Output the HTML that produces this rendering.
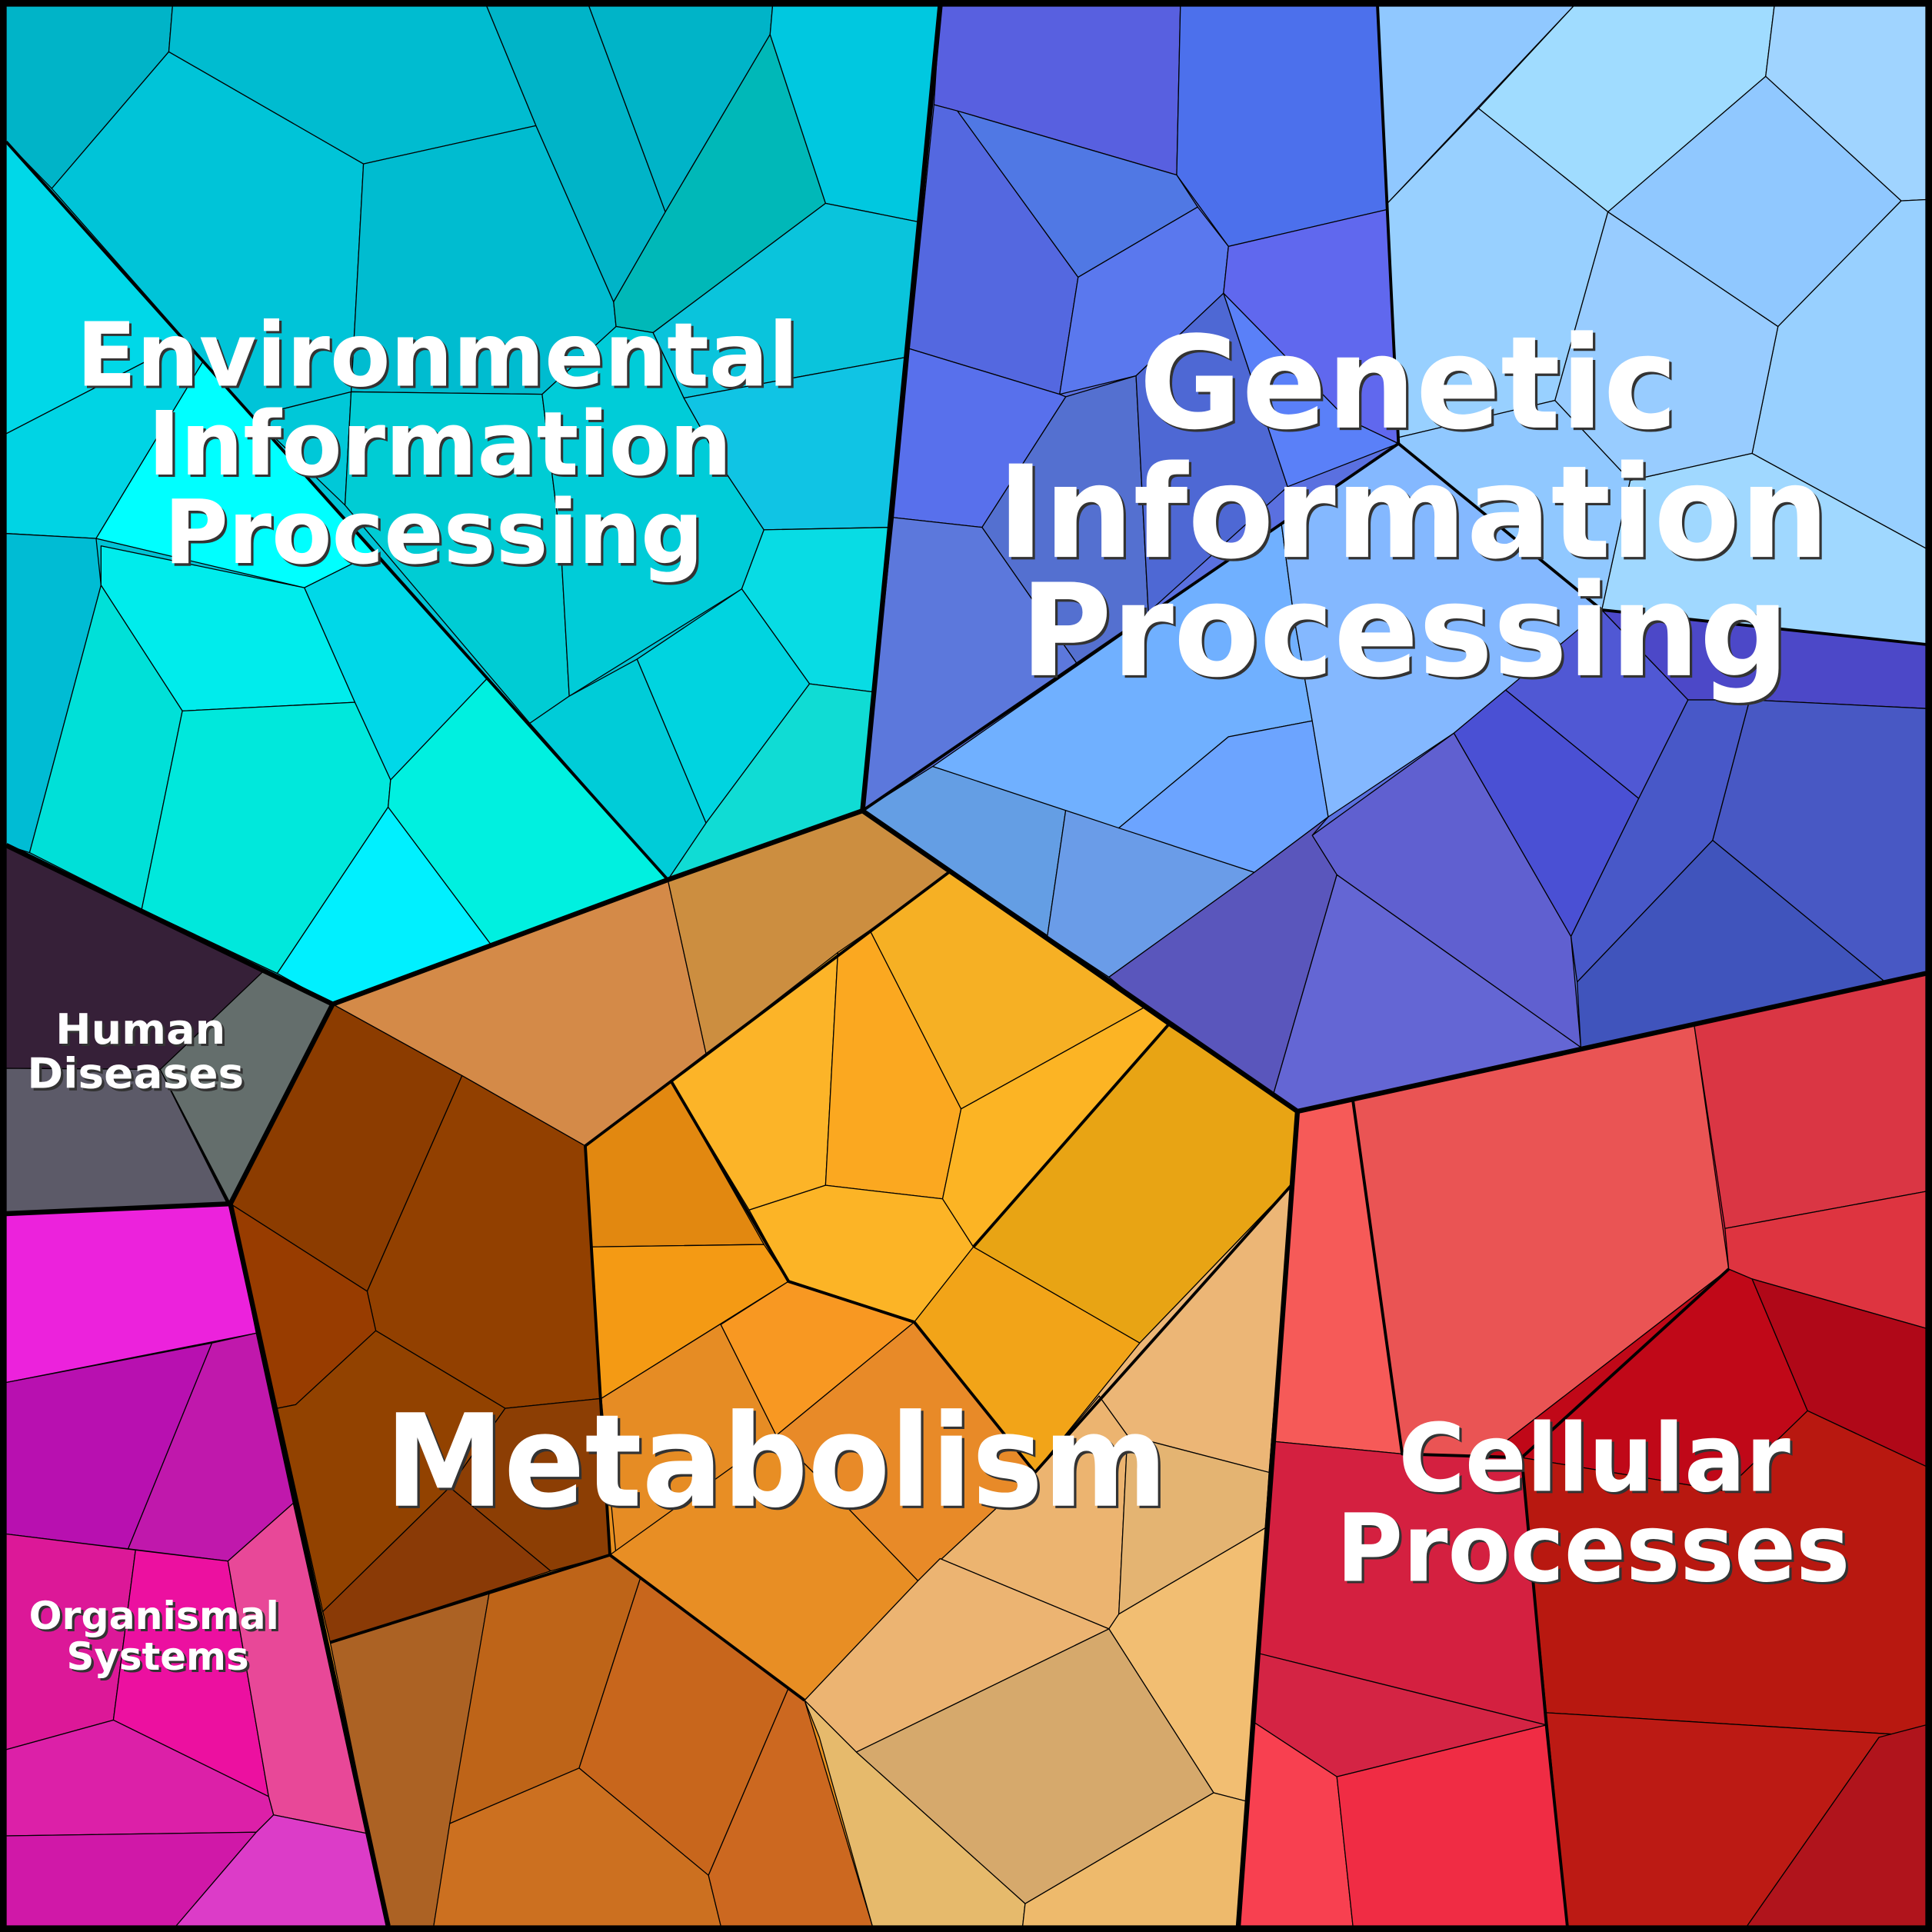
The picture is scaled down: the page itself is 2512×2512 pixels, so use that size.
<!DOCTYPE html>
<html><head><meta charset="utf-8"><style>html,body{margin:0;padding:0;background:#000}svg{display:block}</style></head><body>
<svg xmlns="http://www.w3.org/2000/svg" width="2512" height="2512" viewBox="0 0 1568 1568">
<rect x="0" y="0" width="1568" height="1568" fill="#000"/>
<g stroke="#000" stroke-width="0.8" stroke-linejoin="round">
<polygon points="5,5 763,5 700,658 542,714 270,815 5,686" fill="#00c4d6"/>
<polygon points="5,5 140,5 137,42 42,153 5,115" fill="#00b4c8"/>
<polygon points="42,153 137,42 295,133 285,318 205,338" fill="#00c4d8"/>
<polygon points="140,5 395,5 435,102 295,133 137,42" fill="#00bcd0"/>
<polygon points="295,133 435,102 498,245 500,265 440,320 285,318" fill="#00bcd0"/>
<polygon points="205,338 285,318 280,410" fill="#00c8d8"/>
<polygon points="280,410 285,318 440,320 455,440 462,565 430,587" fill="#00ccd4"/>
<polygon points="395,5 478,5 540,172 498,245 435,102" fill="#00b4c8"/>
<polygon points="478,5 627,5 625,28 540,172" fill="#00b4c8"/>
<polygon points="625,28 670,165 530,270 500,265 498,245 540,172" fill="#00b8b8"/>
<polygon points="627,5 763,5 745,180 670,165 625,28" fill="#00c8e0"/>
<polygon points="670,165 745,180 735,290 555,323 530,270" fill="#0ac4dc"/>
<polygon points="440,320 500,265 530,270 555,323 590,385 620,430 602,478 462,565 455,440" fill="#00ccd8"/>
<polygon points="555,323 735,290 722,428 620,430 590,385" fill="#10c4e4"/>
<polygon points="620,430 722,428 712,562 657,555 602,478" fill="#08dce4"/>
<polygon points="602,478 657,555 573,668 517,535" fill="#00d4e0"/>
<polygon points="657,555 712,562 700,658 542,714 573,668" fill="#10dcd4"/>
<polygon points="430,587 462,565 517,535 573,668 542,714" fill="#00ccd8"/>
<polygon points="5,115 150,277 5,352" fill="#00d8e8"/>
<polygon points="5,352 150,277 165,293 78,437 5,433" fill="#00d4e4"/>
<polygon points="78,437 165,293 305,448 247,477" fill="#00ffff"/>
<polygon points="247,477 305,448 396,550 317,633 288,570" fill="#00d8e8"/>
<polygon points="5,433 78,437 82,475 24,692 5,686" fill="#00bcd4"/>
<polygon points="82,443 247,477 288,570 148,577 82,475" fill="#00ecec"/>
<polygon points="24,692 82,475 148,577 115,738" fill="#00e0d8"/>
<polygon points="148,577 288,570 317,633 315,655 225,790 115,738" fill="#00e8dc"/>
<polygon points="225,790 315,655 398,766 270,815" fill="#00f0ff"/>
<polygon points="315,655 317,633 396,550 542,714 398,766" fill="#00f0e0"/>
<polygon points="763,5 1563,5 1563,790 1053,902 700,658" fill="#5a70e0"/>
<polygon points="763,5 958,5 955,142 777,90 758,85" fill="#5860e0"/>
<polygon points="958,5 1118,5 1126,170 997,200 955,142" fill="#4c70ec"/>
<polygon points="758,85 777,90 875,225 860,320 738,283" fill="#5468e0"/>
<polygon points="777,90 955,142 972,168 875,225" fill="#5078e4"/>
<polygon points="875,225 972,168 997,200 993,238 922,305 860,320" fill="#5a78ee"/>
<polygon points="997,200 1126,170 1135,360 1093,340 993,238" fill="#6068ee"/>
<polygon points="738,283 860,320 865,322 797,428 725,420" fill="#5870ec"/>
<polygon points="865,322 922,305 932,497 875,540 797,428" fill="#5470d0"/>
<polygon points="922,305 993,238 1045,395 932,497" fill="#4e68d4"/>
<polygon points="993,238 1093,340 1135,360 1045,395" fill="#5a80f8"/>
<polygon points="725,420 797,428 875,540 700,658" fill="#5c78dc"/>
<polygon points="1118,5 1277,5 1126,165" fill="#90c8ff"/>
<polygon points="1277,5 1440,5 1433,62 1305,172 1200,88" fill="#a0dcff"/>
<polygon points="1440,5 1563,5 1563,162 1543,163 1433,62" fill="#a0d4ff"/>
<polygon points="1126,165 1200,88 1305,172 1262,325 1135,355" fill="#98d0ff"/>
<polygon points="1305,172 1433,62 1543,163 1443,265" fill="#90c8ff"/>
<polygon points="1543,163 1563,162 1563,445 1422,368 1443,265" fill="#98d0ff"/>
<polygon points="1262,325 1305,172 1443,265 1422,368 1323,390" fill="#98ccff"/>
<polygon points="1323,390 1422,368 1563,445 1563,523 1300,495" fill="#a0d8ff"/>
<polygon points="1135,355 1262,325 1323,390 1300,495 1135,360" fill="#90c8ff"/>
<polygon points="700,658 757,622 865,657 850,760 900,793" fill="#649ee4"/>
<polygon points="865,657 1018,708 900,793 850,760" fill="#6a9ce8"/>
<polygon points="757,622 1040,425 1050,500 1065,585 997,598 908,672" fill="#70b0ff"/>
<polygon points="908,672 997,598 1065,585 1078,663 1018,708" fill="#6ca4ff"/>
<polygon points="1040,425 1135,360 1300,495 1370,568 1330,648 1222,560 1180,595 1078,663 1065,585 1050,500" fill="#84b8ff"/>
<polygon points="1065,678 1180,595 1275,760 1283,850 1085,710" fill="#6060d0"/>
<polygon points="900,793 1018,708 1078,663 1065,678 1085,710 1030,900" fill="#5a56bc"/>
<polygon points="1085,710 1283,850 1053,902 1030,900" fill="#6466d4"/>
<polygon points="1180,595 1222,560 1330,648 1275,760" fill="#4a50d4"/>
<polygon points="1222,560 1300,495 1370,568 1330,648" fill="#5058d4"/>
<polygon points="1300,495 1563,523 1563,575 1420,568 1370,568" fill="#4c48c8"/>
<polygon points="1370,568 1420,568 1390,682 1280,797 1275,760 1330,648" fill="#4858c8"/>
<polygon points="1420,568 1563,575 1563,790 1530,797 1390,682" fill="#4858c4"/>
<polygon points="1280,797 1390,682 1530,797 1283,850" fill="#4054bc"/>
<polygon points="1053,902 1563,790 1563,1563 1005,1563" fill="#d42040"/>
<polygon points="1053,902 1098,893 1138,1180 1035,1170" fill="#f65a58"/>
<polygon points="1098,893 1375,832 1403,1030 1205,1183 1138,1180" fill="#ea5454"/>
<polygon points="1375,832 1563,790 1563,967 1400,997" fill="#da3644"/>
<polygon points="1400,997 1563,967 1563,1078 1422,1038 1403,1030" fill="#de3440"/>
<polygon points="1403,1030 1422,1038 1467,1145 1400,1210 1235,1183 1205,1183" fill="#c00818"/>
<polygon points="1422,1038 1563,1078 1563,1190 1467,1145" fill="#b00818"/>
<polygon points="1235,1183 1400,1210 1467,1145 1563,1190 1563,1400 1545,1408 1255,1390" fill="#b81810"/>
<polygon points="1035,1170 1138,1180 1235,1183 1255,1400 1022,1342" fill="#d42040"/>
<polygon points="1022,1342 1255,1400 1085,1442 1018,1398" fill="#d42444"/>
<polygon points="1018,1398 1085,1442 1098,1563 1005,1563" fill="#f84050"/>
<polygon points="1085,1442 1255,1400 1272,1563 1098,1563" fill="#f02c44"/>
<polygon points="1255,1390 1545,1408 1525,1410 1418,1563 1272,1563" fill="#bc1a14"/>
<polygon points="1525,1410 1563,1400 1563,1563 1418,1563" fill="#b0141c"/>
<polygon points="270,815 542,714 700,658 1053,902 1005,1563 315,1563 187,977" fill="#e89020"/>
<polygon points="270,815 542,714 573,855 475,930 375,873" fill="#d48a48"/>
<polygon points="542,714 700,658 770,708 573,855" fill="#cc8e40"/>
<polygon points="270,815 375,873 298,1048 187,977" fill="#8c3c00"/>
<polygon points="375,873 475,930 488,1135 410,1143 305,1080 298,1048" fill="#924000"/>
<polygon points="187,977 298,1048 305,1080 240,1140 225,1143" fill="#983c00"/>
<polygon points="225,1143 240,1140 305,1080 410,1143 365,1207 262,1308" fill="#924200"/>
<polygon points="262,1308 365,1207 447,1275 268,1333" fill="#8a3a06"/>
<polygon points="365,1207 410,1143 488,1135 495,1262 447,1275" fill="#8c3e04"/>
<polygon points="268,1333 397,1293 352,1563 315,1563" fill="#ac6224"/>
<polygon points="397,1293 495,1262 520,1280 470,1435 365,1480" fill="#be6418"/>
<polygon points="520,1280 653,1380 640,1370 575,1522 470,1435" fill="#c8661c"/>
<polygon points="365,1480 470,1435 575,1522 585,1563 352,1563" fill="#cc7020"/>
<polygon points="575,1522 640,1370 653,1380 708,1563 585,1563" fill="#cc6820"/>
<polygon points="475,930 545,878 620,1010 480,1012" fill="#e28810"/>
<polygon points="480,1012 620,1010 640,1040 488,1135" fill="#f49a14"/>
<polygon points="488,1135 640,1040 585,1075 630,1165 500,1262" fill="#e68c24"/>
<polygon points="585,1075 640,1040 742,1073 630,1165" fill="#f89822"/>
<polygon points="630,1165 742,1073 840,1195 745,1283 665,1200" fill="#e88a28"/>
<polygon points="495,1262 630,1165 665,1200 745,1283 653,1380" fill="#e88e24"/>
<polygon points="545,878 680,773 670,962 608,982" fill="#fcb428"/>
<polygon points="680,773 706,755 780,900 765,973 670,962" fill="#fba820"/>
<polygon points="706,755 770,708 928,818 780,900" fill="#f6b024"/>
<polygon points="608,982 670,962 765,973 790,1012 742,1073 640,1040" fill="#fcb426"/>
<polygon points="780,900 928,818 948,832 790,1012 765,973" fill="#fcb424"/>
<polygon points="948,832 1053,902 1048,962 925,1090 790,1012" fill="#e8a414"/>
<polygon points="742,1073 790,1012 925,1090 840,1195" fill="#f2a418"/>
<polygon points="840,1195 925,1090 1048,962 1030,1195 915,1165 892,1133" fill="#ecb676"/>
<polygon points="745,1283 840,1195 892,1133 915,1165 908,1310 900,1322 763,1265" fill="#ecb470"/>
<polygon points="915,1165 1030,1195 1027,1240 908,1310" fill="#e4b472"/>
<polygon points="653,1380 745,1283 763,1265 900,1322 695,1422" fill="#ecb472"/>
<polygon points="900,1322 908,1310 1027,1240 1012,1462 985,1455" fill="#f2be72"/>
<polygon points="695,1422 900,1322 985,1455 832,1545" fill="#d6a96c"/>
<polygon points="653,1380 695,1422 832,1545 830,1563 708,1563 665,1410" fill="#e6ba6c"/>
<polygon points="832,1545 985,1455 1012,1462 1005,1563 830,1563" fill="#eeba6c"/>
<polygon points="5,686 213,789 130,868 5,867" fill="#362038"/>
<polygon points="213,789 270,815 187,977 130,868" fill="#646e6c"/>
<polygon points="5,867 130,868 184,976 5,985" fill="#5c5a68"/>
<polygon points="5,985 187,977 208,1082 5,1122" fill="#ec22dc"/>
<polygon points="5,1122 172,1090 104,1257 5,1245" fill="#b810b0"/>
<polygon points="172,1090 208,1082 238,1220 185,1267 104,1257" fill="#c018ac"/>
<polygon points="5,1245 110,1258 92,1396 5,1420" fill="#dc1898"/>
<polygon points="110,1258 185,1267 218,1458 92,1396" fill="#ec10a0"/>
<polygon points="185,1267 238,1220 298,1488 222,1473 218,1458" fill="#e84898"/>
<polygon points="5,1420 92,1396 218,1458 222,1473 208,1487 5,1490" fill="#dc20a8"/>
<polygon points="5,1490 208,1487 143,1563 5,1563" fill="#d018a8"/>
<polygon points="208,1487 222,1473 298,1488 315,1563 143,1563" fill="#dc3cc8"/>
</g>
<g fill="none" stroke="#000" stroke-width="2.4" stroke-linejoin="round">
<polyline points="5,115 542,714"/>
<polyline points="700,658 1135,360 1300,495 1563,523"/>
<polyline points="1118,5 1135,360"/>
<polyline points="1098,893 1138,1180 1235,1183 1255,1400 1272,1563"/>
<polyline points="1403,1030 1235,1183"/>
<polyline points="475,930 770,708"/>
<polyline points="475,930 495,1262 653,1380"/>
<polyline points="495,1262 268,1333"/>
<polyline points="1048,962 840,1195 742,1073 640,1040 545,878"/>
<polyline points="790,1012 948,832"/>
</g>
<g fill="none" stroke="#000" stroke-width="4" stroke-linejoin="round">
<polyline points="763,5 700,658 1053,902 1563,790"/>
<polyline points="5,686 270,815 542,714 700,658"/>
<polyline points="270,815 187,977 315,1563"/>
<polyline points="5,985 187,977"/>
<polyline points="1053,902 1005,1563"/>
<rect x="2.5" y="2.5" width="1563" height="1563"/>
</g>
<g font-family="'DejaVu Sans','Liberation Sans',sans-serif" font-weight="bold" text-anchor="middle">
<g fill="#333" transform="translate(2,2)">
<text x="355" y="313" font-size="72" textLength="586" lengthAdjust="spacingAndGlyphs">Environmental</text>
<text x="357" y="385" font-size="72" textLength="474" lengthAdjust="spacingAndGlyphs">Information</text>
<text x="352" y="457" font-size="72" textLength="438" lengthAdjust="spacingAndGlyphs">Processing</text>
<text x="1143" y="347" font-size="104" textLength="437" lengthAdjust="spacingAndGlyphs">Genetic</text>
<text x="1147" y="452" font-size="104" textLength="675" lengthAdjust="spacingAndGlyphs">Information</text>
<text x="1140" y="548" font-size="104" textLength="624" lengthAdjust="spacingAndGlyphs">Processing</text>
<text x="630" y="1222" font-size="104" textLength="635" lengthAdjust="spacingAndGlyphs">Metabolism</text>
<text x="1294" y="1210" font-size="76" textLength="318" lengthAdjust="spacingAndGlyphs">Cellular</text>
<text x="1293" y="1283" font-size="76" textLength="417" lengthAdjust="spacingAndGlyphs">Processes</text>
<text x="114" y="847" font-size="34" textLength="138" lengthAdjust="spacingAndGlyphs">Human</text>
<text x="110" y="883" font-size="34" textLength="176" lengthAdjust="spacingAndGlyphs">Diseases</text>
<text x="125" y="1322" font-size="31" textLength="203" lengthAdjust="spacingAndGlyphs">Organismal</text>
<text x="128" y="1355" font-size="31" textLength="148" lengthAdjust="spacingAndGlyphs">Systems</text>
</g>
<g fill="#fff">
<text x="355" y="313" font-size="72" textLength="586" lengthAdjust="spacingAndGlyphs">Environmental</text>
<text x="357" y="385" font-size="72" textLength="474" lengthAdjust="spacingAndGlyphs">Information</text>
<text x="352" y="457" font-size="72" textLength="438" lengthAdjust="spacingAndGlyphs">Processing</text>
<text x="1143" y="347" font-size="104" textLength="437" lengthAdjust="spacingAndGlyphs">Genetic</text>
<text x="1147" y="452" font-size="104" textLength="675" lengthAdjust="spacingAndGlyphs">Information</text>
<text x="1140" y="548" font-size="104" textLength="624" lengthAdjust="spacingAndGlyphs">Processing</text>
<text x="630" y="1222" font-size="104" textLength="635" lengthAdjust="spacingAndGlyphs">Metabolism</text>
<text x="1294" y="1210" font-size="76" textLength="318" lengthAdjust="spacingAndGlyphs">Cellular</text>
<text x="1293" y="1283" font-size="76" textLength="417" lengthAdjust="spacingAndGlyphs">Processes</text>
<text x="114" y="847" font-size="34" textLength="138" lengthAdjust="spacingAndGlyphs">Human</text>
<text x="110" y="883" font-size="34" textLength="176" lengthAdjust="spacingAndGlyphs">Diseases</text>
<text x="125" y="1322" font-size="31" textLength="203" lengthAdjust="spacingAndGlyphs">Organismal</text>
<text x="128" y="1355" font-size="31" textLength="148" lengthAdjust="spacingAndGlyphs">Systems</text>
</g>
</g>
</svg>
</body></html>
